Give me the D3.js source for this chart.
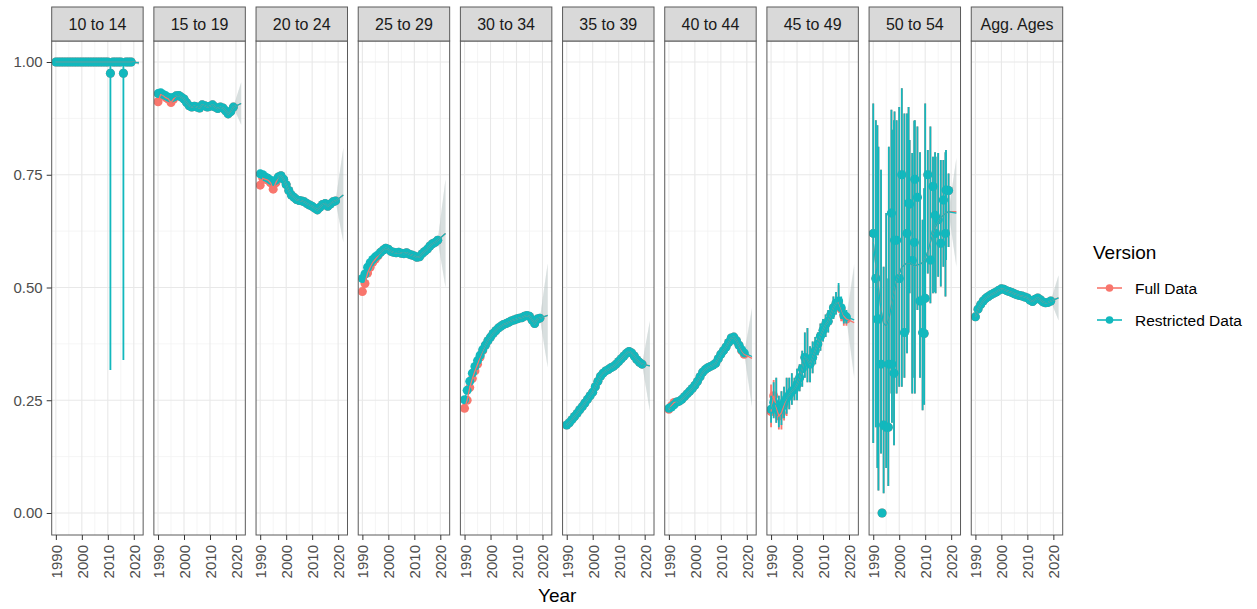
<!DOCTYPE html>
<html>
<head>
<meta charset="utf-8">
<script src="https://cdn.jsdelivr.net/npm/d3@7"></script>
<style>
  body { margin: 0; background: #fff; }
  svg { font-family: "Liberation Sans", Arial, Helvetica, sans-serif; display: block; }
</style>
</head>
<body>
<svg id="chart" width="1257" height="609"></svg>
<script>
// ---- Facets and shared axes -------------------------------------------
const panels = ["10 to 14", "15 to 19", "20 to 24", "25 to 29", "30 to 34",
                "35 to 39", "40 to 44", "45 to 49", "50 to 54", "Agg. Ages"];
const versions = ["Full Data", "Restricted Data"];
const years = [1990, 1991, 1992, 1993, 1994, 1995, 1996, 1997, 1998, 1999,
               2000, 2001, 2002, 2003, 2004, 2005, 2006, 2007, 2008, 2009,
               2010, 2011, 2012, 2013, 2014, 2015, 2016, 2017, 2018, 2019];
const forecastYears = [2019, 2022];
const xTicks = [1990, 2000, 2010, 2020];
const xMinor = [1995, 2005, 2015];
const yTicks = [0, 0.25, 0.5, 0.75, 1];
const yMinor = [0.125, 0.375, 0.625, 0.875];

// ---- Observed shares, Restricted Data ----------------------------------
const r1014 = [1, 1, 1, 1, 1, 1, 1, 1, 1, 1, 1, 1, 1, 1, 1, 1, 1, 1, 1, 1,
               1, 0.975, 1, 1, 1, 1, 0.975, 1, 1, 1];
const r1014Lo = [1, 1, 1, 1, 1, 1, 1, 1, 1, 1, 1, 1, 1, 1, 1, 1, 1, 1, 1, 1,
                 1, 0.317, 1, 1, 1, 1, 0.339, 1, 1, 1];
const r1014Hi = [1, 1, 1, 1, 1, 1, 1, 1, 1, 1, 1, 1, 1, 1, 1, 1, 1, 1, 1, 1,
                 1, 1, 1, 1, 1, 1, 1, 1, 1, 1];
const fit1014 = [1, 1, 1, 1, 1, 1, 1, 1, 1, 1, 1, 1, 1, 1, 1, 1, 1, 1, 1, 1,
                 1, 1, 1, 1, 1, 1, 1, 1, 1, 1];
const r1519 = [0.930, 0.932, 0.928, 0.925, 0.922, 0.920, 0.922, 0.925, 0.926, 0.922,
               0.918, 0.910, 0.903, 0.900, 0.902, 0.900, 0.898, 0.905, 0.903, 0.900,
               0.902, 0.905, 0.900, 0.897, 0.900, 0.898, 0.892, 0.885, 0.890, 0.900];
const r2024 = [0.752, 0.750, 0.745, 0.742, 0.738, 0.735, 0.738, 0.745, 0.748, 0.740,
               0.728, 0.715, 0.705, 0.700, 0.695, 0.693, 0.692, 0.690, 0.686, 0.683,
               0.680, 0.676, 0.672, 0.678, 0.684, 0.686, 0.680, 0.685, 0.690, 0.692];
const r2529 = [0.520, 0.530, 0.545, 0.555, 0.562, 0.568, 0.572, 0.578, 0.583, 0.587,
               0.585, 0.580, 0.578, 0.577, 0.578, 0.576, 0.575, 0.577, 0.574, 0.572,
               0.570, 0.567, 0.568, 0.575, 0.580, 0.585, 0.592, 0.597, 0.600, 0.605];
const r3034 = [0.251, 0.272, 0.292, 0.310, 0.325, 0.338, 0.350, 0.362, 0.372, 0.382,
               0.390, 0.398, 0.404, 0.410, 0.414, 0.418, 0.420, 0.423, 0.426, 0.428,
               0.430, 0.432, 0.433, 0.436, 0.438, 0.436, 0.428, 0.420, 0.430, 0.432];
const r3539 = [0.195, 0.200, 0.207, 0.214, 0.221, 0.229, 0.236, 0.244, 0.252, 0.260,
               0.268, 0.280, 0.292, 0.303, 0.310, 0.315, 0.318, 0.322, 0.325, 0.330,
               0.336, 0.342, 0.348, 0.354, 0.358, 0.355, 0.348, 0.340, 0.334, 0.330];
const r4044 = [0.232, 0.235, 0.240, 0.246, 0.248, 0.252, 0.258, 0.264, 0.270, 0.276,
               0.283, 0.292, 0.302, 0.312, 0.318, 0.322, 0.325, 0.328, 0.332, 0.342,
               0.352, 0.360, 0.368, 0.378, 0.388, 0.390, 0.382, 0.372, 0.362, 0.355];
const r4549 = [0.230, 0.245, 0.240, 0.225, 0.232, 0.245, 0.255, 0.262, 0.270, 0.275,
               0.285, 0.300, 0.320, 0.345, 0.340, 0.330, 0.345, 0.360, 0.375, 0.392,
               0.405, 0.418, 0.425, 0.440, 0.455, 0.465, 0.470, 0.455, 0.440, 0.435];
const r4549Lo = [0.200, 0.210, 0.200, 0.190, 0.195, 0.210, 0.220, 0.230, 0.240, 0.250,
                 0.250, 0.270, 0.280, 0.300, 0.290, 0.290, 0.310, 0.330, 0.350, 0.360,
                 0.380, 0.390, 0.400, 0.420, 0.430, 0.440, 0.450, 0.430, 0.420, 0.420];
const r4549Hi = [0.260, 0.290, 0.300, 0.260, 0.270, 0.280, 0.300, 0.300, 0.310, 0.300,
                 0.320, 0.330, 0.360, 0.400, 0.410, 0.370, 0.380, 0.390, 0.400, 0.420,
                 0.430, 0.440, 0.450, 0.460, 0.480, 0.490, 0.510, 0.480, 0.460, 0.450];
const r5054 = [0.620, 0.520, 0.430, 0.330, 0.195, 0.190, 0.330, 0.665, 0.310, 0.605,
               0.520, 0.750, 0.400, 0.620, 0.685, 0.560, 0.740, 0.700, 0.470, 0.400,
               0.476, 0.750, 0.561, 0.724, 0.620, 0.650, 0.598, 0.694, 0.716, 0.715];
const r5054Lo = [0.155, 0.190, 0.050, 0.132, 0.044, 0.100, 0.191, 0.265, 0.150, 0.265,
                 0.280, 0.280, 0.300, 0.354, 0.487, 0.265, 0.265, 0.450, 0.300, 0.228,
                 0.400, 0.531, 0.465, 0.487, 0.487, 0.524, 0.502, 0.546, 0.561, 0.590];
const r5054Hi = [0.908, 0.871, 0.812, 0.761, 0.546, 0.665, 0.812, 0.894, 0.871, 0.871,
                 0.900, 0.942, 0.886, 0.886, 0.827, 0.798, 0.871, 0.857, 0.800, 0.650,
                 0.908, 0.805, 0.857, 0.790, 0.790, 0.798, 0.783, 0.783, 0.805, 0.753];
// additional survey rounds between the annual ones (50 to 54 group)
const extraYears5054 = [1991.6, 1993.4, 1995.8, 1997.2, 1998.2, 2003.6, 2005.8, 2009.6, 2013.8, 2017.8];
const extra5054   = [0.430, 0.000, 0.190, 0.330, 0.605, 0.687, 0.600, 0.398, 0.660, 0.620];
const extra5054Lo = [0.100, 0.000, 0.060, 0.200, 0.300, 0.400, 0.300, 0.240, 0.490, 0.480];
const extra5054Hi = [0.860, 0.000, 0.520, 0.850, 0.890, 0.900, 0.870, 0.720, 0.800, 0.800];
const fit5054 = [0.600, 0.550, 0.500, 0.450, 0.420, 0.415, 0.430, 0.460, 0.490, 0.515,
                 0.530, 0.545, 0.550, 0.555, 0.555, 0.550, 0.548, 0.550, 0.552, 0.555,
                 0.565, 0.580, 0.600, 0.620, 0.635, 0.645, 0.655, 0.660, 0.665, 0.668];
const rAgg = [0.435, 0.452, 0.462, 0.470, 0.476, 0.480, 0.484, 0.487, 0.490, 0.494,
              0.497, 0.496, 0.493, 0.491, 0.489, 0.486, 0.484, 0.482, 0.481, 0.479,
              0.477, 0.472, 0.469, 0.474, 0.477, 0.473, 0.468, 0.466, 0.467, 0.470];

// ---- Observed shares, Full Data (where it departs from Restricted) -----
const f1519 = [0.912, 0.928, 0.926, 0.921, 0.918, 0.910, 0.918, 0.925, 0.926, 0.922,
               0.918, 0.910, 0.903, 0.900, 0.902, 0.900, 0.898, 0.905, 0.903, 0.900,
               0.902, 0.905, 0.900, 0.897, 0.900, 0.898, 0.892, 0.885, 0.890, 0.900];
const f2024 = [0.727, 0.742, 0.740, 0.738, 0.732, 0.718, 0.732, 0.745, 0.748, 0.740,
               0.728, 0.715, 0.705, 0.700, 0.695, 0.693, 0.692, 0.690, 0.686, 0.683,
               0.680, 0.676, 0.672, 0.678, 0.684, 0.686, 0.680, 0.685, 0.690, 0.692];
const f2529 = [0.491, 0.509, 0.532, 0.545, 0.556, 0.563, 0.570, 0.578, 0.583, 0.587,
               0.585, 0.580, 0.578, 0.577, 0.578, 0.576, 0.575, 0.577, 0.574, 0.572,
               0.570, 0.567, 0.568, 0.575, 0.580, 0.585, 0.592, 0.597, 0.600, 0.605];
const f3034 = [0.232, 0.250, 0.278, 0.298, 0.315, 0.330, 0.346, 0.360, 0.372, 0.382,
               0.390, 0.398, 0.404, 0.410, 0.414, 0.418, 0.420, 0.423, 0.426, 0.428,
               0.430, 0.432, 0.433, 0.436, 0.438, 0.436, 0.428, 0.420, 0.430, 0.432];
const f4044 = [0.230, 0.238, 0.245, 0.246, 0.248, 0.252, 0.258, 0.264, 0.270, 0.276,
               0.283, 0.292, 0.302, 0.312, 0.318, 0.322, 0.325, 0.328, 0.332, 0.342,
               0.352, 0.360, 0.368, 0.378, 0.388, 0.390, 0.382, 0.372, 0.360, 0.352];
const f4549 = [0.225, 0.260, 0.235, 0.215, 0.222, 0.240, 0.255, 0.262, 0.270, 0.275,
               0.285, 0.300, 0.320, 0.345, 0.340, 0.330, 0.345, 0.360, 0.375, 0.392,
               0.405, 0.418, 0.425, 0.440, 0.455, 0.465, 0.468, 0.452, 0.437, 0.430];
const f4549Lo = [0.190, 0.215, 0.200, 0.185, 0.185, 0.205, 0.215, 0.230, 0.240, 0.250,
                 0.250, 0.270, 0.280, 0.300, 0.290, 0.290, 0.310, 0.330, 0.350, 0.360,
                 0.380, 0.390, 0.400, 0.420, 0.430, 0.440, 0.445, 0.425, 0.415, 0.415];
const f4549Hi = [0.285, 0.295, 0.300, 0.260, 0.270, 0.280, 0.300, 0.300, 0.310, 0.300,
                 0.320, 0.330, 0.360, 0.400, 0.410, 0.370, 0.380, 0.390, 0.400, 0.420,
                 0.430, 0.440, 0.450, 0.460, 0.480, 0.490, 0.505, 0.475, 0.455, 0.445];

// ---- Projection to 2022: end value and half-width of the band ---------
const forecastRestricted = [0.998, 0.908, 0.705, 0.620, 0.438, 0.326, 0.347, 0.428, 0.665, 0.477];
const forecastFull       = [0.998, 0.908, 0.705, 0.620, 0.438, 0.326, 0.343, 0.422, 0.668, 0.477];
const forecastHalfWidth  = [0.004, 0.047, 0.105, 0.120, 0.115, 0.100, 0.110, 0.125, 0.120, 0.050];

// Table assembled per facet
const more5054 = { yrs: extraYears5054, pts: extra5054, lo: extra5054Lo, hi: extra5054Hi };
const table = [
  { r: r1014, f: r1014, rLo: r1014Lo, rHi: r1014Hi, rFit: fit1014, fFit: fit1014 },
  { r: r1519, f: f1519 },
  { r: r2024, f: f2024 },
  { r: r2529, f: f2529 },
  { r: r3034, f: f3034 },
  { r: r3539, f: r3539 },
  { r: r4044, f: f4044 },
  { r: r4549, f: f4549, rLo: r4549Lo, rHi: r4549Hi, fLo: f4549Lo, fHi: f4549Hi },
  { r: r5054, f: r5054, rLo: r5054Lo, rHi: r5054Hi, fLo: r5054Lo, fHi: r5054Hi,
    rFit: fit5054, fFit: fit5054, extra: more5054 },
  { r: rAgg, f: rAgg }
].map((d, i) => ({
  name: panels[i],
  series: [
    { version: versions[0], pts: d.f, lo: d.fLo, hi: d.fHi, fit: d.fFit || d.f,
      extra: d.extra, fc: forecastFull[i], w: forecastHalfWidth[i] },
    { version: versions[1], pts: d.r, lo: d.rLo, hi: d.rHi, fit: d.rFit || d.r,
      extra: d.extra, fc: forecastRestricted[i], w: forecastHalfWidth[i] }
  ]
}));

// ---- Scales ---------------------------------------------------------------
const svg = d3.select("#chart");
const color = d3.scaleOrdinal().domain(versions).range(["#F8766D", "#12B8BD"]);
const facet = d3.scaleBand().domain(panels).range([51.7, 1062.7]).paddingInner(0.105);
const bw = facet.bandwidth();
const x = d3.scaleLinear().domain([1988.4, 2023.6]).range([0, bw]);
const y = d3.scaleLinear().domain([-0.0488, 1.0466]).range([535, 41]);
const yTop = y.range()[1], yBottom = y.range()[0];

const defs = svg.append("defs");
defs.append("clipPath").attr("id", "panel-clip")
  .append("rect").attr("x", 0).attr("y", yTop).attr("width", bw).attr("height", yBottom - yTop);

const line = d3.line().x(d => x(d.year)).y(d => y(d.v));
const area = d3.area().x(d => x(d.year)).y0(d => y(d.lo)).y1(d => y(d.hi));

// ---- Panels -------------------------------------------------------------
const panel = svg.selectAll("g.panel").data(table).join("g")
  .attr("class", "panel")
  .attr("transform", d => `translate(${facet(d.name)},0)`);

panel.append("rect").attr("x", 0).attr("y", yTop).attr("width", bw).attr("height", yBottom - yTop)
  .attr("fill", "#fff");

// grid
panel.each(function () {
  const g = d3.select(this).append("g");
  g.selectAll("line.vmin").data(xMinor).join("line")
    .attr("x1", d => x(d)).attr("x2", d => x(d)).attr("y1", yTop).attr("y2", yBottom)
    .attr("stroke", "#F3F3F3").attr("stroke-width", 0.8);
  g.selectAll("line.hmin").data(yMinor).join("line")
    .attr("x1", 0).attr("x2", bw).attr("y1", d => y(d)).attr("y2", d => y(d))
    .attr("stroke", "#F3F3F3").attr("stroke-width", 0.8);
  g.selectAll("line.vmaj").data(xTicks).join("line")
    .attr("x1", d => x(d)).attr("x2", d => x(d)).attr("y1", yTop).attr("y2", yBottom)
    .attr("stroke", "#E8E8E8").attr("stroke-width", 1.1);
  g.selectAll("line.hmaj").data(yTicks).join("line")
    .attr("x1", 0).attr("x2", bw).attr("y1", d => y(d)).attr("y2", d => y(d))
    .attr("stroke", "#E8E8E8").attr("stroke-width", 1.1);
});

const plot = panel.append("g").attr("clip-path", "url(#panel-clip)");

// projection bands
plot.each(function (p) {
  const g = d3.select(this);
  p.series.forEach(s => {
    const start = s.fit[s.fit.length - 1];
    const band = [
      { year: forecastYears[0], lo: start, hi: start },
      { year: forecastYears[1], lo: s.fc - s.w, hi: s.fc + s.w }
    ];
    g.append("path").datum(band).attr("d", area)
      .attr("fill", "#B9C6C6").attr("fill-opacity", 0.33);
  });
});

// observed points with intervals
plot.each(function (p) {
  const g = d3.select(this);
  p.series.forEach(s => {
    let pts = years.map((yr, i) => ({
      year: yr, v: s.pts[i],
      lo: s.lo ? s.lo[i] : s.pts[i], hi: s.hi ? s.hi[i] : s.pts[i]
    }));
    if (s.extra) {
      pts = pts.concat(s.extra.yrs.map((yr, i) => ({
        year: yr, v: s.extra.pts[i], lo: s.extra.lo[i], hi: s.extra.hi[i]
      })));
    }
    g.selectAll(null).data(pts.filter(d => d.hi - d.lo > 0.001)).join("line")
      .attr("x1", d => x(d.year)).attr("x2", d => x(d.year))
      .attr("y1", d => y(d.lo)).attr("y2", d => y(d.hi))
      .attr("stroke", color(s.version)).attr("stroke-width", 1.8);
    g.selectAll(null).data(pts).join("circle")
      .attr("cx", d => x(d.year)).attr("cy", d => y(d.v)).attr("r", 4.5)
      .attr("fill", color(s.version));
  });
});

// fitted and projected lines
plot.each(function (p) {
  const g = d3.select(this);
  p.series.forEach(s => {
    const pts = years.map((yr, i) => ({ year: yr, v: s.fit[i] }));
    pts.push({ year: forecastYears[1], v: s.fc });
    g.append("path").datum(pts).attr("d", line)
      .attr("fill", "none").attr("stroke", color(s.version)).attr("stroke-width", 1.3);
  });
});

// panel border
panel.append("rect").attr("x", 0).attr("y", yTop).attr("width", bw).attr("height", yBottom - yTop)
  .attr("fill", "none").attr("stroke", "#5a5a5a").attr("stroke-width", 1);

// strips
panel.append("rect").attr("x", 0).attr("y", 7).attr("width", bw).attr("height", yTop - 7)
  .attr("fill", "#D9D9D9").attr("stroke", "#5a5a5a").attr("stroke-width", 1);
panel.append("text").attr("x", bw / 2).attr("y", 29.5).attr("text-anchor", "middle")
  .attr("font-size", 16).attr("fill", "#1A1A1A").text(d => d.name);

// x axes
panel.append("g").attr("transform", `translate(0,${yBottom})`)
  .call(d3.axisBottom(x).tickValues(xTicks).tickFormat(d3.format("d")).tickSize(5).tickPadding(3))
  .call(g => g.select(".domain").remove())
  .call(g => g.selectAll(".tick line").attr("stroke", "#333"))
  .call(g => g.selectAll(".tick text")
    .attr("font-size", 15).attr("fill", "#4D4D4D").attr("font-family", null)
    .attr("text-anchor", "end").attr("dy", null).attr("y", null)
    .attr("transform", "translate(5.5,10) rotate(-90)"));

// y axis
svg.append("g").attr("transform", `translate(${facet(panels[0])},0)`)
  .call(d3.axisLeft(y).tickValues(yTicks).tickFormat(d3.format(".2f")).tickSize(5).tickPadding(4))
  .call(g => g.select(".domain").remove())
  .call(g => g.selectAll(".tick line").attr("stroke", "#333"))
  .call(g => g.selectAll(".tick text").attr("font-size", 15).attr("fill", "#4D4D4D")
    .attr("font-family", null));

// axis title
svg.append("text").attr("x", (facet.range()[0] + facet.range()[1]) / 2).attr("y", 602)
  .attr("text-anchor", "middle").attr("font-size", 19).attr("fill", "#000").text("Year");

// legend
const legend = svg.append("g").attr("transform", "translate(1093,0)");
legend.append("text").attr("x", 0).attr("y", 259).attr("font-size", 19).attr("fill", "#000")
  .text("Version");
const item = legend.selectAll("g.item").data(versions).join("g")
  .attr("class", "item")
  .attr("transform", (d, i) => `translate(0,${288 + i * 32})`);
item.append("line").attr("x1", 4).attr("x2", 29).attr("y1", 0).attr("y2", 0)
  .attr("stroke", d => color(d)).attr("stroke-width", 1.6);
item.append("circle").attr("cx", 16.5).attr("cy", 0).attr("r", 3.8).attr("fill", d => color(d));
item.append("text").attr("x", 42).attr("y", 5.5).attr("font-size", 15.5).attr("fill", "#000")
  .text(d => d);
</script>
</body>
</html>
